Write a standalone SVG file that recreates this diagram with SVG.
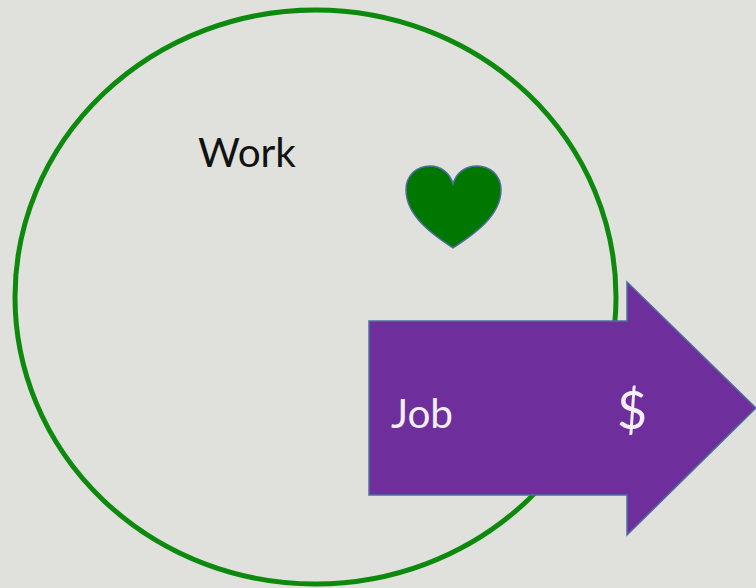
<svg xmlns="http://www.w3.org/2000/svg" width="756" height="588" viewBox="0 0 756 588">
<style>
text{font-family:Lato,"Open Sans","Liberation Sans",sans-serif;font-size:40.500px}
.e{stroke:#4f6f9f;stroke-width:1.5}
.w{fill:#f4eef8}
</style>
<rect width="756" height="588" fill="#e0e1dc"/>
<g id="work"><ellipse cx="315.500" cy="297" rx="300.500" ry="287" fill="none" stroke="#0d8a0d" stroke-width="5"/>
<text x="198" y="167" fill="#111">Work</text></g>
<g id="heart"><path class="e" fill="#007800" d="M453 248C438 238 406 218 406 190C406 175 417 166 430 166C441 166 450 173 453 184C456 173 465 166 477 166C490 166 501 175 501 190C501 218 468 238 453 248Z"/></g>
<g id="job"><path class="e" fill="#6e2e9c" d="M369 321H627V282L756 408L627 535V495H369Z"/>
<text class="w" x="391" y="428">Job</text>
<text class="w" x="617" y="429" style="font-size:52px">$</text></g>
</svg>
